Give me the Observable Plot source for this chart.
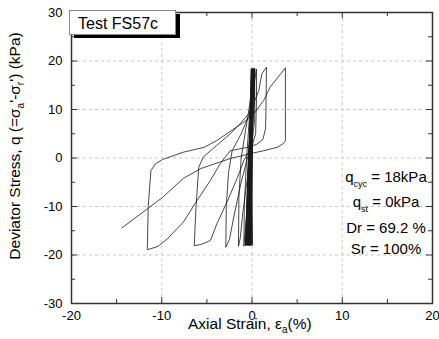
<!DOCTYPE html>
<html><head><meta charset="utf-8">
<script src="https://cdn.jsdelivr.net/npm/d3@7"></script>
<script src="https://cdn.jsdelivr.net/npm/@observablehq/plot@0.6"></script>
<style>
body{margin:0;background:#fff}
svg{font-family:Arial,"Liberation Sans",sans-serif}
</style>
</head><body><div id="chart"></div>
<script>
// ---- axis ticks ----
const xTicks = [-20, -10, 0, 10, 20];
const yTicks = [-30, -20, -10, 0, 10, 20, 30];
const xMinor = [-15, -5, 5, 15];
const yMinor = [-25, -15, -5, 5, 15, 25];
const xGrid = [-10, 0, 10];
const yGrid = [-20, -10, 0, 10, 20];

// ---- tight early cycles (strain % read at q = +top, 0 on unloading, bottom, 0 on reloading) ----
const bandTopQ = 18.4;
const bandBottomQ = -18.0;
const bandHigh    = [0.10, 0.12, 0.05, 0.14, 0.15, 0.02, 0.16, 0.18, -0.05, 0.20, 0.20, 0.00, 0.22, 0.22, -0.08, 0.25, 0.15, 0.24];
const bandMidDown = [0.02, 0.00, -0.03, -0.05, -0.07, -0.10, -0.12, -0.15, -0.18, -0.20, -0.23, -0.26, -0.30, -0.32, -0.35, -0.20, -0.38, -0.25];
const bandLow     = [-0.10, -0.15, -0.18, -0.22, -0.25, -0.30, -0.33, -0.38, -0.42, -0.46, -0.50, -0.55, -0.62, -0.66, -0.70, 0.05, -0.72, -0.10];
const bandMidUp   = [-0.02, -0.05, -0.08, -0.10, -0.12, -0.15, -0.18, -0.20, -0.22, -0.25, -0.28, -0.30, -0.33, -0.36, -0.38, 0.00, -0.40, -0.05];

// ---- later, growing cycles: [strain %, q kPa] ----
const toB2 = [[0.25,18.3],[0.2,10],[-0.1,2],[-0.4,-6],[-0.7,-14],[-0.9,-18.2]];
const upB2 = [[-0.85,-10],[-0.6,0],[-0.3,8],[0.1,15],[0.3,18.3]];
const toB3 = [[0.25,12],[0,4],[-0.5,-4],[-1.0,-11],[-1.3,-16.5],[-1.5,-18.2]];
const upB3 = [[-1.45,-8],[-1.2,0],[-0.6,7],[0,14],[0.3,18.4]];
const toB4 = [[0.3,8],[0,3],[-0.5,0],[-1.2,-5],[-2.0,-12],[-2.5,-16.8],[-2.9,-18.4]];
const upB4 = [[-2.85,-10],[-2.6,-3],[-2.2,1.5],[-1.2,5],[-0.3,9],[0.2,15],[0.5,18.3]];
const toB5 = [[0.5,12],[0.4,5],[0,2.5],[-0.9,-0.5],[-1.6,-4],[-2.7,-8.8],[-3.9,-13.6],[-4.6,-17],[-5.6,-17.8],[-6.4,-18.1]];
const upB5 = [[-6.2,-10],[-5.9,-1.9],[-5.4,0.2],[-4.6,1.5],[-3.9,2.6],[-2.4,5.0],[-1.3,7.1],[-0.2,9.5],[0.75,13.9],[1.1,17.4],[1.6,18.7]];
const toB6 = [[1.55,10],[1.5,6],[1.2,3.8],[0.5,2.8],[-0.5,2.2],[-2.4,1.5],[-3.5,-1.1],[-4.6,-4.6],[-6.1,-8.8],[-7.6,-13.2],[-9.4,-16.7],[-10.4,-18.2],[-11.2,-18.7],[-11.6,-18.9]];
const upB6 = [[-11.5,-10],[-11.2,-2.6],[-10.7,-1.2],[-9.9,-0.3],[-7.6,1.2],[-5.3,2.2],[-3.9,3.6],[-2.4,5.5],[-0.9,7.4],[0.2,9.1],[1.3,11.9],[2.0,14.6],[3.2,17.4],[3.7,18.6]];
const toEnd = [[3.7,10],[3.7,3.6],[3.5,3.0],[2.8,2.2],[1.3,1.5],[-0.2,0.9],[-2.4,-0.1],[-5.7,-2.2],[-7.6,-4.2],[-9.9,-8.1],[-11.6,-10.5],[-14.4,-14.4]];

// ---- build the single test path ----
const path = [{x: 0, y: 0}];
for (let i = 0; i < bandHigh.length; i++) {
  path.push({x: bandHigh[i], y: bandTopQ});
  path.push({x: bandMidDown[i], y: 0});
  path.push({x: bandLow[i], y: bandBottomQ});
  path.push({x: bandMidUp[i], y: 0});
}
for (const seg of [toB2, upB2, toB3, upB3, toB4, upB4, toB5, upB5, toB6, upB6, toEnd]) {
  for (const [x, y] of seg) path.push({x, y});
}

const W = 439, H = 339, mL = 71, mR = 7, mT = 12, mB = 36;
const pw = W - mL - mR, ph = H - mT - mB;
const tickC = "#333";

const chart = Plot.plot({
  width: W, height: H,
  marginLeft: mL, marginRight: mR, marginTop: mT, marginBottom: mB,
  x: {domain: [-20, 20], label: null},
  y: {domain: [-30, 30], label: null},
  style: {fontFamily: "Arial, 'Liberation Sans', sans-serif", fontSize: "13px", color: "#000", background: "#fff"},
  marks: [
    Plot.ruleX(xGrid, {x: d => d, stroke: "#c8c8c8", strokeDasharray: "3,3", strokeWidth: 1}),
    Plot.ruleY(yGrid, {y: d => d, stroke: "#c8c8c8", strokeDasharray: "3,3", strokeWidth: 1}),
    Plot.line(path, {x: "x", y: "y", stroke: "#1a1a1a", strokeWidth: 0.8}),
    Plot.tickY(yTicks, {y: d => d, insetRight: pw - 6, stroke: tickC}),
    Plot.tickY(yTicks, {y: d => d, insetLeft: pw - 6, stroke: tickC}),
    Plot.tickY(yMinor, {y: d => d, insetRight: pw - 4, stroke: tickC}),
    Plot.tickY(yMinor, {y: d => d, insetLeft: pw - 4, stroke: tickC}),
    Plot.tickX(xTicks, {x: d => d, insetTop: ph - 6, stroke: tickC}),
    Plot.tickX(xTicks, {x: d => d, insetBottom: ph - 6, stroke: tickC}),
    Plot.tickX(xMinor, {x: d => d, insetTop: ph - 4, stroke: tickC}),
    Plot.tickX(xMinor, {x: d => d, insetBottom: ph - 4, stroke: tickC}),
    Plot.frame({stroke: "#333", strokeWidth: 1.5}),
    Plot.axisX(xTicks, {tickSize: 0, tickPadding: 7, tickFormat: d => String(d), fontSize: 13}),
    Plot.axisY(yTicks, {tickSize: 0, tickPadding: 9, tickFormat: d => String(d), fontSize: 13})
  ]
});
document.getElementById("chart").appendChild(chart);

const svg = d3.select(chart);
const ff = "Arial, 'Liberation Sans', sans-serif";

// y-axis title
const yt = svg.append("text")
  .attr("transform", "translate(20,146) rotate(-90)")
  .attr("text-anchor", "middle")
  .attr("font-size", 15.5).attr("font-family", ff).attr("fill", "#000");
yt.append("tspan").text("Deviator Stress, q (=σ");
yt.append("tspan").attr("font-size", 10).attr("dy", 4).text("a");
yt.append("tspan").attr("dy", -4).text("'-σ");
yt.append("tspan").attr("font-size", 10).attr("dy", 4).text("r");
yt.append("tspan").attr("dy", -4).text("') (kPa)");

// x-axis title
const xt = svg.append("text")
  .attr("x", 188).attr("y", 329).attr("text-anchor", "start")
  .attr("font-size", 15.5).attr("font-family", ff).attr("fill", "#000");
xt.append("tspan").text("Axial Strain, ε");
xt.append("tspan").attr("font-size", 10).attr("dy", 4).text("a");
xt.append("tspan").attr("dy", -4).text("(%)");

// legend box
svg.append("rect").attr("x", 74).attr("y", 14).attr("width", 106).attr("height", 24).attr("fill", "#000");
svg.append("rect").attr("x", 69.5).attr("y", 10.5).attr("width", 106).attr("height", 24)
  .attr("fill", "#fff").attr("stroke", "#888").attr("stroke-width", 1);
svg.append("text").attr("x", 78).attr("y", 29).attr("text-anchor", "start").attr("font-size", 16).attr("font-family", ff)
  .attr("fill", "#000").text("Test FS57c");

// annotations
const cx = 386;
function ann(y, main, sub, rest) {
  const t = svg.append("text").attr("x", cx).attr("y", y).attr("text-anchor", "middle")
    .attr("font-size", 15).attr("font-family", ff).attr("fill", "#000");
  t.append("tspan").text(main);
  if (sub) {
    t.append("tspan").attr("font-size", 9).attr("dy", 5).text(sub);
    t.append("tspan").attr("dy", -5).text(rest);
  }
}
ann(182, "q", "cyc", " = 18kPa");
ann(207, "q", "st", " = 0kPa");
ann(233, "Dr = 69.2 %");
ann(254, "Sr = 100%");
</script>
</body></html>
